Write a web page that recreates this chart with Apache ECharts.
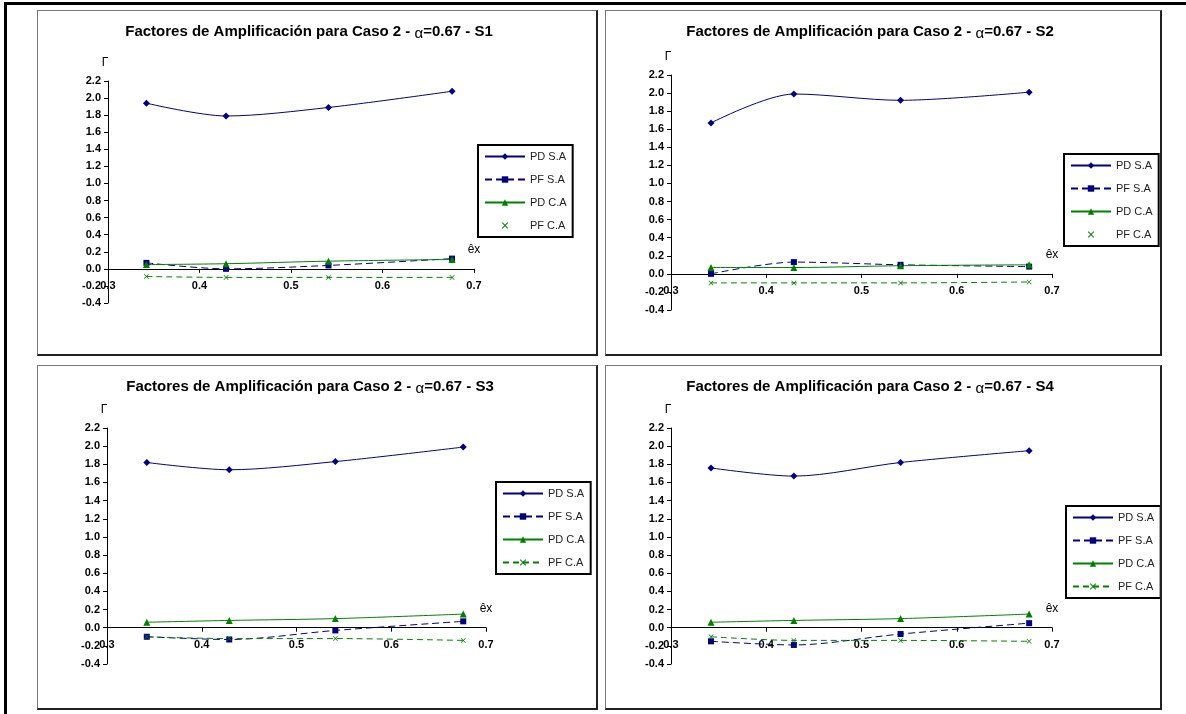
<!DOCTYPE html>
<html>
<head>
<meta charset="utf-8">
<script src="https://cdn.jsdelivr.net/npm/echarts@6/dist/echarts.min.js"></script>
<style>
body{margin:0;background:#fff;width:1186px;height:714px;overflow:hidden;position:relative}
#frame{position:absolute;left:4px;top:2px;width:1200px;height:730px;border-top:3px solid #000;border-left:3px solid #000}
.panel{position:absolute;box-sizing:border-box;border:1px solid #777;border-right:2px solid #222;border-bottom:2px solid #222;background:#fff}
</style>
</head>
<body>
<div id="frame"></div>
<div class="panel" id="c1" style="left:37px;top:10px;width:561px;height:346px"></div>
<div class="panel" id="c2" style="left:605px;top:10px;width:557px;height:346px"></div>
<div class="panel" id="c3" style="left:37px;top:365px;width:561px;height:345px"></div>
<div class="panel" id="c4" style="left:605px;top:365px;width:557px;height:345px"></div>
<script>
// valores de êx (comunes a los 4 gráficos)
var exValues = [0.342, 0.429, 0.541, 0.676];
var seriesNames = ['PD S.A', 'PF S.A', 'PD C.A', 'PF C.A'];

// S1
var pdSA_S1 = [1.94, 1.79, 1.89, 2.08];
var pfSA_S1 = [0.07, 0.00, 0.04, 0.12];
var pdCA_S1 = [0.05, 0.06, 0.09, 0.11];
var pfCA_S1 = [-0.09, -0.10, -0.10, -0.10];
// S2
var pdSA_S2 = [1.67, 1.99, 1.92, 2.01];
var pfSA_S2 = [0.00, 0.13, 0.10, 0.08];
var pdCA_S2 = [0.07, 0.07, 0.09, 0.10];
var pfCA_S2 = [-0.10, -0.10, -0.10, -0.09];
// S3
var pdSA_S3 = [1.82, 1.74, 1.83, 1.99];
var pfSA_S3 = [-0.10, -0.13, -0.03, 0.07];
var pdCA_S3 = [0.06, 0.08, 0.10, 0.15];
var pfCA_S3 = [-0.10, -0.12, -0.12, -0.14];
// S4
var pdSA_S4 = [1.76, 1.67, 1.82, 1.95];
var pfSA_S4 = [-0.15, -0.19, -0.07, 0.05];
var pdCA_S4 = [0.06, 0.08, 0.10, 0.15];
var pfCA_S4 = [-0.10, -0.14, -0.14, -0.15];

var FONT = "'Liberation Sans', Arial, sans-serif";
var xMark = 'path://M0,1L1,0L5,4L9,0L10,1L6,5L10,9L9,10L5,6L1,10L0,9L4,5Z';
var Y_MIN = -0.4, Y_MAX = 2.2;

// estilo de cada serie
var looks = [
    {color: '#000080', type: 'solid', symbol: 'diamond', size: 7},
    {color: '#000080', type: [7, 4], symbol: 'rect', size: 6},
    {color: '#008000', type: 'solid', symbol: 'triangle', size: 7},
    {color: '#008000', type: [6, 4], symbol: xMark, size: 5}
];

function pts(ys) {
    return exValues.map(function (x, i) { return [x, ys[i]]; });
}

function makeOption(sn, lists, lay) {
    var series = lists.map(function (ys, i) {
        var lk = looks[i];
        return {
            name: seriesNames[i],
            type: 'line',
            data: pts(ys),
            smooth: 0.3,
            symbol: lk.symbol,
            symbolSize: lk.size,
            lineStyle: {color: lk.color, width: 1, type: lk.type},
            itemStyle: {color: lk.color}
        };
    });
    var legendData = seriesNames.map(function (n, i) {
        if (i === 3 && lay.markOnly) {
            return {name: n, lineStyle: {opacity: 0}};
        }
        return {name: n};
    });
    // el eje x cruza en y = 0
    var zeroOffset = -lay.gh * (0 - Y_MIN) / (Y_MAX - Y_MIN);
    return {
        animation: false,
        textStyle: {fontFamily: FONT},
        graphic: [{
            type: 'text',
            x: lay.tx,
            y: 11,
            style: {
                text: '{b|Factores de Amplificación para Caso 2 - }{a|α}{b|=0.67 - ' + sn + '}',
                textAlign: 'center',
                rich: {
                    b: {fontFamily: FONT, fontSize: 15, fontWeight: 'bold', fill: '#000'},
                    a: {fontFamily: FONT, fontSize: 15, fill: '#000', padding: [4, 0, 0, 0]}
                }
            }
        }],
        legend: {
            orient: 'vertical',
            left: lay.lx,
            top: lay.ly,
            padding: [6, 6, 6, 6],
            itemWidth: 40,
            itemHeight: 8,
            itemGap: 12,
            borderColor: '#000',
            borderWidth: 2,
            textStyle: {fontFamily: FONT, fontSize: 11, color: '#222'},
            data: legendData
        },
        grid: {left: lay.gl, top: lay.gt, width: lay.gw, height: lay.gh},
        xAxis: {
            type: 'value',
            min: 0.3,
            max: 0.7,
            interval: 0.1,
            position: 'bottom',
            offset: zeroOffset,
            name: 'êx',
            nameLocation: 'end',
            nameGap: 0,
            nameTextStyle: {fontFamily: FONT, fontSize: 12, color: '#000', align: 'center', verticalAlign: 'bottom', padding: [0, 0, 13, 0]},
            axisLine: {onZero: false, lineStyle: {color: '#000', width: 1}},
            axisTick: {length: 4, lineStyle: {color: '#000'}},
            axisLabel: {margin: 12, fontFamily: FONT, fontSize: 11, fontWeight: 'bold', color: '#000',
                formatter: function (v) { return v.toFixed(1); }},
            splitLine: {show: false}
        },
        yAxis: {
            type: 'value',
            min: Y_MIN,
            max: Y_MAX,
            interval: 0.2,
            name: 'Γ',
            nameLocation: 'end',
            nameGap: 12,
            nameTextStyle: {fontFamily: FONT, fontSize: 12, color: '#000', padding: [0, 6, 0, 0]},
            axisLine: {show: true, lineStyle: {color: '#000', width: 1}},
            axisTick: {show: true, length: 4, lineStyle: {color: '#000'}},
            axisLabel: {margin: 7, fontFamily: FONT, fontSize: 11, fontWeight: 'bold', color: '#000',
                formatter: function (v) { return v.toFixed(1); }},
            splitLine: {show: false}
        },
        series: series
    };
}

var charts = [
    {id: 'c1', sn: 'S1', lists: [pdSA_S1, pfSA_S1, pdCA_S1, pfCA_S1],
        lay: {tx: 271, gl: 70, gt: 70, gw: 366, gh: 222, lx: 440, ly: 134, markOnly: true}},
    {id: 'c2', sn: 'S2', lists: [pdSA_S2, pfSA_S2, pdCA_S2, pfCA_S2],
        lay: {tx: 264, gl: 65, gt: 64, gw: 381, gh: 235, lx: 458, ly: 143, markOnly: true}},
    {id: 'c3', sn: 'S3', lists: [pdSA_S3, pfSA_S3, pdCA_S3, pfCA_S3],
        lay: {tx: 272, gl: 69, gt: 62, gw: 379, gh: 236, lx: 458, ly: 116, markOnly: false}},
    {id: 'c4', sn: 'S4', lists: [pdSA_S4, pfSA_S4, pdCA_S4, pfCA_S4],
        lay: {tx: 264, gl: 65, gt: 62, gw: 381, gh: 236, lx: 460, ly: 140, markOnly: false}}
];

charts.forEach(function (c) {
    var myChart = echarts.init(document.getElementById(c.id));
    myChart.setOption(makeOption(c.sn, c.lists, c.lay));
});
</script>
</body>
</html>
